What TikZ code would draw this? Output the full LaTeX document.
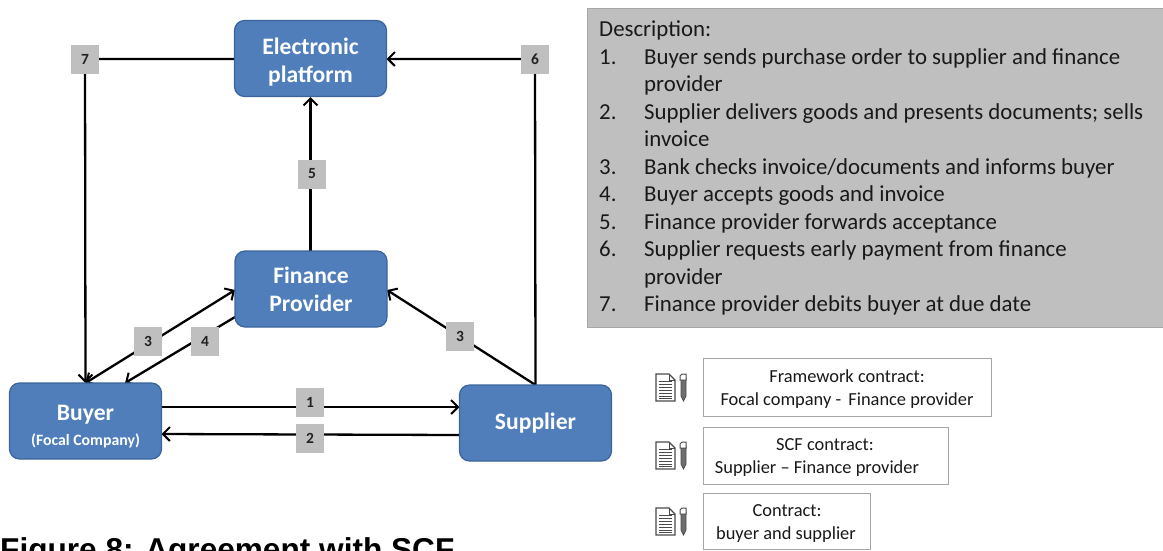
\documentclass[tikz,border=0pt]{standalone}
\usepackage{fontspec}
\setmainfont{Carlito}
\newfontfamily\figfont{Liberation Sans}
\usetikzlibrary{arrows.meta,backgrounds}
\definecolor{boxblue}{HTML}{4F7EBB}
\definecolor{boxedge}{HTML}{3A649A}
\definecolor{panelgray}{HTML}{BFBFBF}
\definecolor{tagtext}{HTML}{222222}
\definecolor{contractedge}{HTML}{A6A6A6}
\definecolor{icongray}{HTML}{4A4A4A}
\tikzset{
  actor/.style={draw=boxedge,line width=1.2pt,fill=boxblue,rounded corners=10pt,minimum width=152pt,minimum height=76pt,inner sep=0pt,align=center,text=white,font=\fontsize{23.6}{28}\selectfont\bfseries},
  tag/.style={fill=panelgray,minimum width=27.5pt,minimum height=29pt,inner sep=0pt,text=tagtext,font=\fontsize{15.5}{16}\selectfont\bfseries},
  barb/.tip={Straight Barb[length=7pt,width=14pt,line width=2pt]},
  flow/.style={draw=black,line width=2.3pt,-barb},
  panel/.style={draw=contractedge,line width=1pt,fill=panelgray,minimum width=576pt,minimum height=319pt,inner sep=0pt},
  desc/.style={anchor=base west,inner sep=0pt,text=black!90,font=\fontsize{22.85}{24}\selectfont},
  contract/.style={draw=contractedge,line width=1pt,fill=white,inner sep=0pt},
  ctext/.style={anchor=base,inner sep=0pt,text=black!90,font=\fontsize{18.4}{20}\selectfont},
  pics/docpen/.style={code={
    \draw[icongray,line width=1.2pt,fill=white] (0,0) -- (13,0) -- (19,6) -- (19,27) -- (0,27) -- cycle;
    \draw[icongray,line width=1pt] (13,0) -- (13,6) -- (19,6);
    \foreach \yy in {7,10,13,16,19,22,24.5}{\draw[icongray,line width=1pt] (3,\yy) -- (16,\yy);}
    \draw[icongray,line width=.8pt,fill=icongray!80] (25,4) -- (25,22) -- (27.5,27) -- (30,22) -- (30,4) -- cycle;
    \draw[icongray,line width=1pt,fill=white] (26,0) -- (30,0) -- (30,6) -- (24,6) -- (24,2) -- cycle;
  }}
}
\begin{document}
\begin{tikzpicture}[x=1pt,y=-1pt]
\useasboundingbox (0,0) rectangle (1163,550);
% actors
\node[actor] (platform) at (310.5,58.5) {\rule{0pt}{23pt}Electronic\\platform};
\node[actor] (finance) at (311,289) {Finance\\Provider};
\node[actor] (buyer) at (85.5,421) {\rule{0pt}{27pt}Buyer\\[-3pt]{\fontsize{15.8}{15}\selectfont (Focal Company)}};
\node[actor] (supplier) at (535.5,423) {Supplier};
% tags
\node[tag] (t1) at (310,402) {1};
\node[tag] (t2) at (310,438) {2};
\node[tag] (t3a) at (148,341) {3};
\node[tag] (t4) at (205,341) {4};
\node[tag] (t3b) at (460,336) {3};
\node[tag] (t5) at (312,174) {5};
\node[tag] (t6) at (535,59) {6};
\node[tag] (t7) at (85,59) {7};
% connector ends
\coordinate (bTopL) at (85.5,383);
\coordinate (bTopR) at (125,383);
\coordinate (bE1) at (161.5,407);
\coordinate (bE2) at (161.5,434);
\coordinate (sW1) at (459.5,407);
\coordinate (sW2) at (459.5,435);
\coordinate (sTop) at (535.5,385);
\coordinate (fW1) at (235,290);
\coordinate (fW2) at (235,317);
\coordinate (fE) at (387,290);
\coordinate (fTop) at (310.5,251);
\coordinate (pBot) at (310.5,97);
\coordinate (pE) at (386.5,59);
\coordinate (pW) at (234.5,59);
\begin{pgfonlayer}{background}
\draw[flow] (bE1) -- (sW1);
\draw[flow] (sW2) -- (bE2);
\draw[flow,barb-barb] (bTopL) -- (fW1);
\draw[flow] (fW2) -- (bTopR);
\draw[flow] (sTop) -- (fE);
\draw[flow] (fTop) -- (pBot);
\draw[flow] (sTop) -- (t6.center) -- (pE);
\draw[flow] (pW) -- (t7.center) -- (bTopL);
\end{pgfonlayer}
% description panel
\node[panel] (panel) at (875,167.5) {};
\node[desc] (dh) at (599,36) {Description:};
\node[desc] (n1) at (599,64) {1.};
\node[desc] (d1) at (644,64) {Buyer sends purchase order to supplier and finance};
\node[desc] (d1b) at (644,91.5) {provider};
\node[desc] (n2) at (599,119) {2.};
\node[desc] (d2) at (644,119) {Supplier delivers goods and presents documents; sells};
\node[desc] (d2b) at (644,146.5) {invoice};
\node[desc] (n3) at (599,174) {3.};
\node[desc] (d3) at (644,174) {Bank checks invoice/documents and informs buyer};
\node[desc] (n4) at (599,201.5) {4.};
\node[desc] (d4) at (644,201.5) {Buyer accepts goods and invoice};
\node[desc] (n5) at (599,229) {5.};
\node[desc] (d5) at (644,229) {Finance provider forwards acceptance};
\node[desc] (n6) at (599,256.5) {6.};
\node[desc] (d6) at (644,256.5) {Supplier requests early payment from finance};
\node[desc] (d6b) at (644,284) {provider};
\node[desc] (n7) at (599,311.5) {7.};
\node[desc] (d7) at (644,311.5) {Finance provider debits buyer at due date};
% contracts
\node[contract,minimum width=288pt,minimum height=58pt] (c1) at (847,387) {};
\node[ctext] (c1a) at (847,382) {Framework contract:};
\node[ctext] (c1b) at (847,405) {Focal company -\, Finance provider};
\node[contract,minimum width=245pt,minimum height=57pt] (c2) at (825.5,455.5) {};
\node[ctext] (c2a) at (825,450) {SCF contract:};
\node[ctext] (c2b) at (817,473) {Supplier -- Finance provider};
\node[contract,minimum width=167pt,minimum height=56pt] (c3) at (786.5,521) {};
\node[ctext] (c3a) at (787,516) {Contract:};
\node[ctext] (c3b) at (786,539) {buyer and supplier};
\pic at (656,374) {docpen};
\pic at (656,442) {docpen};
\pic at (656,508) {docpen};
% caption
\node[anchor=base west,inner sep=0pt,font=\figfont\fontsize{31.6}{34}\selectfont\bfseries] (cap) at (0,560) {Figure 8: Agreement with SCF};
\end{tikzpicture}
\end{document}
